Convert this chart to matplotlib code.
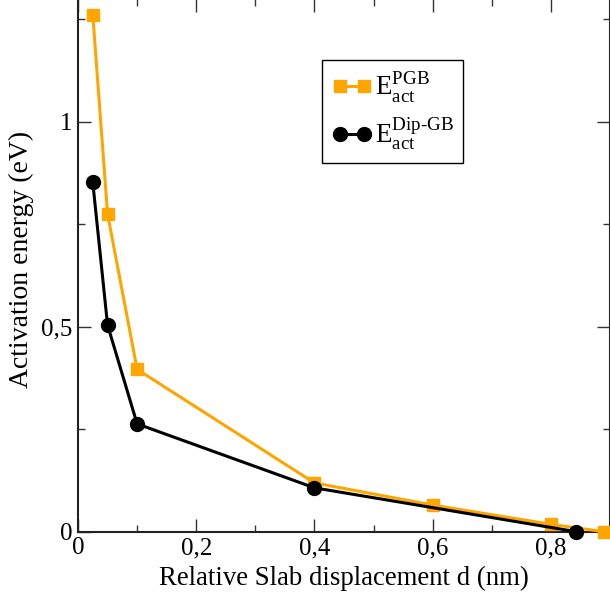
import matplotlib
matplotlib.use("Agg")
import matplotlib.pyplot as plt
from matplotlib.ticker import MultipleLocator, FuncFormatter

plt.rcParams['font.family'] = ['Liberation Serif', 'DejaVu Serif']
plt.rcParams['mathtext.fontset'] = 'custom'
plt.rcParams['mathtext.rm'] = 'Liberation Serif'

# activation energies vs slab displacement
d_pgb = [0.025, 0.05, 0.1, 0.4, 0.6, 0.8, 0.89]
e_pgb = [1.261, 0.775, 0.396, 0.119, 0.065, 0.018, 0.0]
d_dip = [0.025, 0.05, 0.1, 0.4, 0.843]
e_dip = [0.852, 0.504, 0.263, 0.107, 0.0]

fig = plt.figure(figsize=(6.1, 5.96), dpi=100)
ax = fig.add_axes([78/610, 64.3/596, 532/610, 533/596])

ax.plot(d_pgb, e_pgb, color='#FFA500', lw=2.2, marker='s', ms=8.5,
        label=r'$\mathrm{E}_{\mathrm{act}}^{\mathrm{PGB}}$', clip_on=False, zorder=3)
ax.plot(d_dip, e_dip, color='black', lw=2.2, marker='o', ms=10,
        label=r'$\mathrm{E}_{\mathrm{act}}^{\mathrm{Dip\text{-}GB}}$', clip_on=False, zorder=4)

ax.set_xlim(0, 0.9)
ax.set_ylim(0, 1.3)

comma = FuncFormatter(lambda v, p: f'{v:g}'.replace('.', ','))
ax.xaxis.set_major_locator(MultipleLocator(0.2))
ax.xaxis.set_minor_locator(MultipleLocator(0.1))
ax.yaxis.set_major_locator(MultipleLocator(0.5))
ax.yaxis.set_minor_locator(MultipleLocator(0.25))
ax.xaxis.set_major_formatter(comma)
ax.yaxis.set_major_formatter(comma)

ax.tick_params(which='both', direction='in', top=True, right=True, width=1, color='#333333')
ax.tick_params(which='major', length=9.5, labelsize=18, pad=4)
ax.tick_params(which='minor', length=4.7)
for s in ax.spines.values():
    s.set_linewidth(1.5)
    s.set_color('#222222')

ax.set_xlabel('Relative Slab displacement d (nm)', fontsize=19.3, labelpad=5)
ax.set_ylabel('Activation energy (eV)', fontsize=20)
ax.yaxis.set_label_coords(-0.083, 0.51)

leg = ax.legend(loc='upper left', bbox_to_anchor=(322/610, 1 - 60/596),
                bbox_transform=fig.transFigure, borderaxespad=0, numpoints=2,
                fancybox=False, edgecolor='black', framealpha=1, fontsize=19.5,
                handlelength=1.5, handletextpad=0.1, labelspacing=0.45,
                borderpad=0.35)
leg.get_frame().set_linewidth(1)

fig.savefig('out.png', dpi=100)
